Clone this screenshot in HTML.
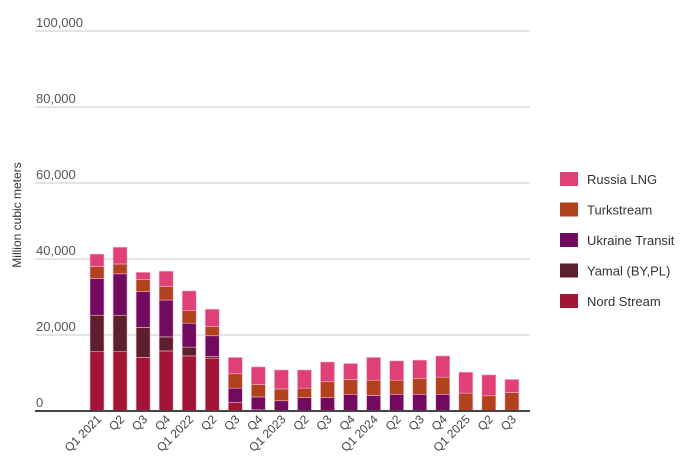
<!DOCTYPE html>
<html><head><meta charset="utf-8"><style>
body{margin:0;background:#fff;font-family:"Liberation Sans",sans-serif;}
svg text{font-family:"Liberation Sans",sans-serif;}
</style></head><body>
<svg id="c" width="686" height="471"></svg>
<script>
const categories=["Q1 2021","Q2","Q3","Q4","Q1 2022","Q2","Q3","Q4","Q1 2023","Q2","Q3","Q4","Q1 2024","Q2","Q3","Q4","Q1 2025","Q2","Q3"];
const nordStream=[15.6,15.6,14.1,15.8,14.5,13.9,2.3,0.3,0,0,0,0,0,0,0,0,0,0,0];
const yamal=[9.6,9.6,7.9,3.7,2.3,0.5,0,0,0,0,0,0,0,0,0,0,0,0,0];
const ukraine=[9.7,10.9,9.4,9.7,6.3,5.4,3.7,3.4,2.7,3.5,3.5,4.4,4.1,4.4,4.4,4.4,0,0,0];
const turkstream=[3.1,2.6,3.2,3.6,3.3,2.4,3.8,3.3,3.1,2.5,4.2,3.9,4.0,3.7,4.2,4.5,4.7,4.0,4.9];
const russiaLng=[3.3,4.4,1.9,4.0,5.2,4.6,4.3,4.6,5.0,4.8,5.2,4.2,6.0,5.1,4.8,5.6,5.5,5.5,3.4];
const yTicks=[0,20000,40000,60000,80000,100000];
const series=[
 {name:"Nord Stream",vals:nordStream,color:"#a31535"},
 {name:"Yamal (BY,PL)",vals:yamal,color:"#5c1f2d"},
 {name:"Ukraine Transit",vals:ukraine,color:"#720b60"},
 {name:"Turkstream",vals:turkstream,color:"#b2411e"},
 {name:"Russia LNG",vals:russiaLng,color:"#e04078"}];
const NS="http://www.w3.org/2000/svg";
const svg=document.getElementById('c');
function el(t,a,p){const e=document.createElementNS(NS,t);for(const k in a)e.setAttribute(k,a[k]);(p||svg).appendChild(e);return e;}
const y=v=>411-v*(380/100000);
const x=i=>97+i*23.05;
yTicks.forEach(t=>{
 const g=el('line',{x1:35,x2:530,y1:y(t),y2:y(t),stroke:'#dcdcdc','stroke-width':1.5});
 
 
 const l=el('text',{x:36,y:y(t)-4,'font-size':13,fill:'#555'});
 l.textContent=t.toLocaleString('en-US');
 
 
});
const yt=el('text',{transform:'translate(21,215) rotate(-90)','text-anchor':'middle','font-size':12,fill:'#333'});
yt.textContent='Million cubic meters';


categories.forEach((c,i)=>{
 let acc=0;
 series.forEach(s=>{
  const v=s.vals[i]*1000;
  if(v>0){
   const r=el('rect',{x:x(i)-7,y:y(acc+v),width:14,height:y(acc)-y(acc+v),fill:s.color,stroke:'#f3b8cc','stroke-width':0.6});
   
   
  }
  acc+=v;
 });
 const t=el('text',{transform:`translate(${x(i)+5},420) rotate(-45)`,'text-anchor':'end','font-size':12,fill:'#444'});
 t.textContent=c;
 
 
});
const ax=el('line',{x1:35,x2:530,y1:411,y2:411,stroke:'#444','stroke-width':2});


series.slice().reverse().forEach((s,k)=>{
 const yy=172+k*30.5;
 const r=el('rect',{x:560,y:yy,width:18,height:14,fill:s.color});
 
 
 const t=el('text',{x:587,y:yy+12,'font-size':13,fill:'#333'});
 t.textContent=s.name;
 
 
});
</script>
</body></html>
